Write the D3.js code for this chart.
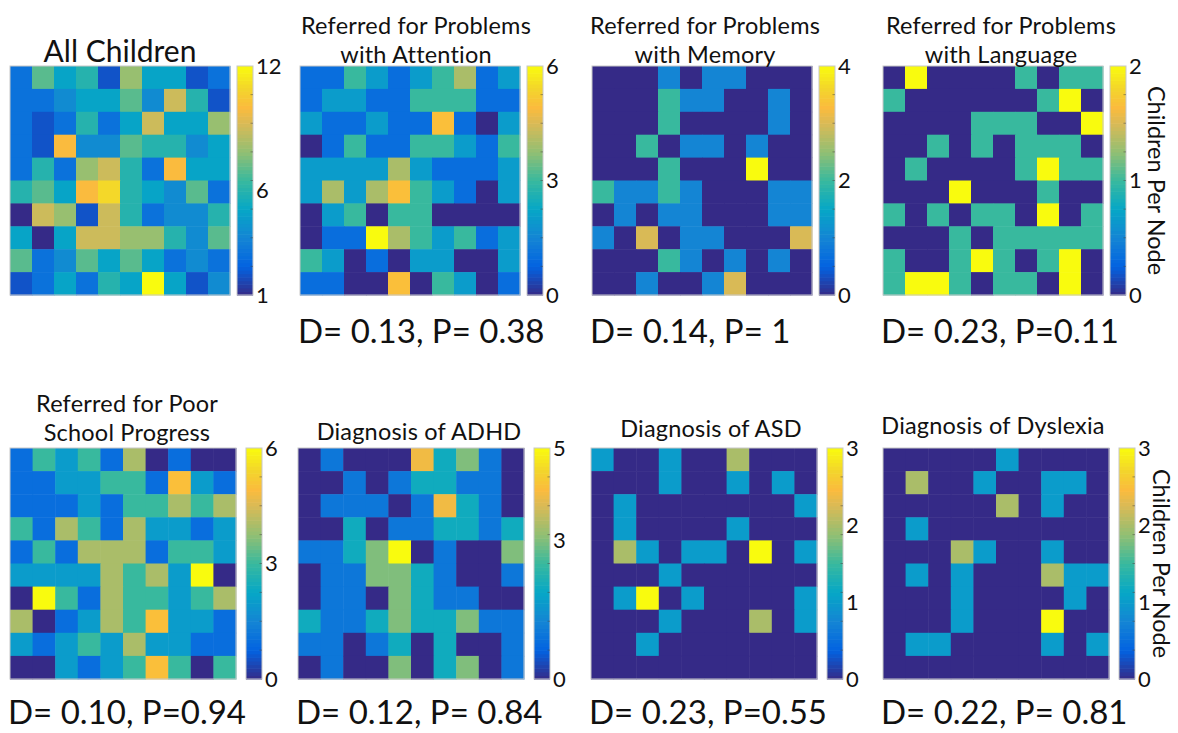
<!DOCTYPE html>
<html>
<head>
<meta charset="utf-8">
<script src="https://cdn.jsdelivr.net/npm/d3@7"></script>
<style>
  body { margin: 0; background: #fff; }
  svg { display: block; font-family: Lato, "Open Sans", sans-serif; }
</style>
</head>
<body>
<svg id="fig" width="1178" height="733"></svg>
<script>
// ---- data: children per SOM node, 10x10 maps (rows top -> bottom) ----
const titles = [
  ["All Children"],
  ["Referred for Problems", "with Attention"],
  ["Referred for Problems", "with Memory"],
  ["Referred for Problems", "with Language"],
  ["Referred for Poor", "School Progress"],
  ["Diagnosis of ADHD"],
  ["Diagnosis of ASD"],
  ["Diagnosis of Dyslexia"]
];
const statLabels = [
  "",
  "D= 0.13, P= 0.38",
  "D= 0.14, P= 1",
  "D= 0.23, P=0.11",
  "D= 0.10, P=0.94",
  "D= 0.12, P= 0.84",
  "D= 0.23, P=0.55",
  "D= 0.22, P= 0.81"
];
const colorMin = [1, 0, 0, 0, 0, 0, 0, 0];
const colorMax = [12, 6, 4, 2, 6, 5, 3, 3];
const tickValues = [
  [1, 6, 12], [0, 3, 6], [0, 2, 4], [0, 1, 2],
  [0, 3, 6], [0, 3, 5], [0, 1, 2, 3], [0, 1, 2, 3]
];
const cbarLabel = "Children Per Node";

const allChildren = [
  [3,7,5,6,2,8,5,5,2,3],
  [3,3,4,5,5,7,4,9,6,2],
  [3,2,3,6,3,5,9,5,5,8],
  [3,2,10,4,4,7,6,6,4,5],
  [3,6,3,8,9,6,3,10,5,5],
  [6,7,5,10,11,6,5,4,7,3],
  [1,9,8,2,9,6,3,4,4,6],
  [5,1,5,9,9,8,8,6,4,7],
  [7,3,4,7,5,7,5,3,4,3],
  [2,3,5,3,6,5,12,5,2,4]
];
const attention = [
  [1,1,3,2,1,2,3,4,1,2],
  [1,2,2,1,1,3,3,3,1,1],
  [2,1,1,2,1,1,5,1,0,2],
  [0,1,3,1,1,3,3,2,1,3],
  [2,2,2,2,4,2,1,1,1,2],
  [2,4,2,4,5,3,2,1,0,2],
  [0,2,3,0,3,3,0,0,0,0],
  [0,1,1,6,4,3,2,3,1,2],
  [3,2,0,1,0,2,2,0,0,2],
  [1,1,0,0,5,0,3,2,0,1]
];
const memory = [
  [0,0,0,1,0,1,1,0,0,0],
  [0,0,0,2,1,1,0,0,1,0],
  [0,0,0,2,0,0,0,0,1,0],
  [0,0,2,0,1,1,0,1,0,0],
  [0,0,0,2,0,0,0,4,0,0],
  [2,1,1,2,1,0,0,0,1,1],
  [0,1,0,1,1,0,0,0,1,1],
  [1,0,3,0,1,1,0,0,0,3],
  [0,0,0,2,1,0,1,0,1,0],
  [0,0,1,0,0,1,3,0,0,0]
];
const language = [
  [0,2,0,0,0,0,1,0,1,1],
  [1,0,0,0,0,0,0,1,2,0],
  [0,0,0,0,1,1,1,0,0,2],
  [0,0,1,0,1,0,1,1,1,0],
  [0,1,0,0,0,0,1,2,1,1],
  [0,0,0,2,0,0,0,1,0,0],
  [1,0,1,0,1,1,0,2,0,1],
  [0,0,0,1,0,1,1,1,1,1],
  [1,0,0,1,2,1,0,1,2,0],
  [1,2,2,1,0,1,1,0,2,0]
];
const schoolProgress = [
  [1,3,2,3,1,4,0,1,0,0],
  [1,1,2,2,3,3,1,5,2,1],
  [1,1,1,2,1,3,3,4,3,4],
  [3,1,4,3,1,4,2,2,1,2],
  [1,3,1,4,4,4,1,3,3,2],
  [2,2,2,2,4,3,4,2,6,0],
  [0,6,3,1,4,3,3,2,3,4],
  [4,0,1,2,4,3,5,2,2,1],
  [2,1,2,3,2,4,2,2,1,1],
  [0,0,2,1,2,3,5,3,0,3]
];
const adhd = [
  [0,1,0,0,0,4,2,3,1,0],
  [0,0,1,0,1,2,2,1,1,0],
  [0,1,1,1,0,1,4,2,1,0],
  [0,0,2,0,1,1,2,2,1,2],
  [1,1,2,3,5,0,1,0,0,3],
  [0,1,1,3,3,2,1,0,0,1],
  [0,1,1,0,3,2,1,1,0,0],
  [2,1,1,2,3,2,2,3,1,1],
  [1,1,0,1,2,0,2,0,0,1],
  [0,1,0,0,3,0,2,3,0,1]
];
const asd = [
  [1,0,0,1,0,0,2,0,0,0],
  [0,0,0,1,0,0,1,0,1,0],
  [0,1,0,0,0,0,0,0,0,1],
  [0,1,0,0,0,0,1,0,0,0],
  [0,2,1,0,1,1,0,3,0,1],
  [0,0,0,1,0,0,0,0,0,0],
  [0,1,3,0,1,0,0,0,0,1],
  [0,0,0,1,0,0,0,2,0,1],
  [0,0,1,0,0,0,0,0,0,0],
  [0,0,0,0,0,0,0,0,0,0]
];
const dyslexia = [
  [0,0,0,0,0,1,0,0,0,0],
  [0,2,0,0,1,0,0,1,1,0],
  [0,0,0,0,0,2,0,1,0,0],
  [0,1,0,0,0,0,0,0,0,0],
  [0,0,0,2,1,0,0,1,0,0],
  [0,1,0,1,0,0,0,2,1,1],
  [0,0,0,1,0,0,0,0,1,0],
  [0,0,0,1,0,0,0,3,0,0],
  [0,1,1,0,0,0,0,1,0,1],
  [0,0,0,0,0,0,0,0,0,0]
];
const maps = [allChildren, attention, memory, language, schoolProgress, adhd, asd, dyslexia];

// parula-like colormap
const parulaStops = [0, 0.125, 0.25, 0.375, 0.5, 0.625, 0.75, 0.82, 0.9, 1];
const parulaColors = ["#352a87", "#0363e1", "#1485d4", "#06a7c6", "#38b99e",
                      "#92bf73", "#d9ba56", "#fbbb3d", "#f3d42c", "#f9fb0e"];
const parula = d3.scaleLinear().domain(parulaStops).range(parulaColors)
  .interpolate(d3.interpolateRgb).clamp(true);

// ---- layout ----
const rows = [
  { y: 66,  h: 229, xs: [10, 300, 592, 883], w: 220, cbGap: 7,  titleY: [34, 63], statY: 343, labelX: 1156 },
  { y: 448, h: 231, xs: [10, 298, 591, 883], w: 226, cbGap: 10, titleY: [412, 441], statY: 724, labelX: 1161 }
];
const singleTitleY = [62, null, null, null, null, 440, 437, 434];
const titleShift = [0, 6, 3, 8, 4, 8, 7, -3];
const cbW = 16;

const svg = d3.select("#fig");

maps.forEach((grid, k) => {
  const r = rows[Math.floor(k / 4)];
  const gx = r.xs[k % 4];
  const g = svg.append("g").attr("class", "panel").attr("transform", `translate(${gx},${r.y})`);

  const nR = grid.length, nC = grid[0].length;
  const x = d3.scaleBand().domain(d3.range(nC)).range([0, r.w]);
  const y = d3.scaleBand().domain(d3.range(nR)).range([0, r.h]);
  const col = d3.scaleLinear().domain([colorMin[k], colorMax[k]]).range([0, 1]).clamp(true);

  const cells = grid.flatMap((row, i) => row.map((v, j) => ({ i, j, v })));
  g.selectAll("rect.cell").data(cells).enter().append("rect")
    .attr("class", "cell")
    .attr("x", d => x(d.j)).attr("y", d => y(d.i))
    .attr("width", x.bandwidth() + 0.5).attr("height", y.bandwidth() + 0.5)
    .attr("fill", d => parula(col(d.v)));

  g.append("rect").attr("width", r.w).attr("height", r.h)
    .attr("fill", "none").attr("stroke", "#c8c8c8").attr("stroke-width", 1);

  // title
  const t = titles[k];
  const tg = g.append("g").attr("class", "title");
  if (k === 0) {
    tg.append("text").attr("x", r.w / 2).attr("y", singleTitleY[k] - r.y)
      .attr("text-anchor", "middle").style("font-size", "30px").attr("fill", "#111").text(t[0]);
  } else {
    t.forEach((line, i) => {
      const yy = t.length === 2 ? r.titleY[i] : singleTitleY[k];
      tg.append("text").attr("x", r.w / 2 + titleShift[k]).attr("y", yy - r.y)
        .attr("text-anchor", "middle").style("font-size", "23.5px")
        .style("letter-spacing", "0.2px").attr("fill", "#111").text(line);
    });
  }

  // stats text
  if (statLabels[k]) {
    g.append("text").attr("x", -2).attr("y", r.statY - r.y)
      .style("font-size", "33px").attr("fill", "#111").text(statLabels[k]);
  }

  // colorbar
  const cb = g.append("g").attr("transform", `translate(${r.w + r.cbGap},0)`);
  const cy = d3.scaleLinear().domain([colorMin[k], colorMax[k]]).range([r.h, 0]);
  const steps = d3.range(64);
  cb.selectAll("rect.cb").data(steps).enter().append("rect")
    .attr("class", "cb")
    .attr("x", 0).attr("width", cbW)
    .attr("y", s => r.h - (s + 1) * r.h / 64).attr("height", r.h / 64 + 0.6)
    .attr("fill", s => parula((s + 0.5) / 64));
  cb.append("rect").attr("width", cbW).attr("height", r.h)
    .attr("fill", "none").attr("stroke", "#c8c8c8").attr("stroke-width", 1);

  const axis = d3.axisRight(cy).tickValues(tickValues[k]).tickSize(0).tickPadding(3)
    .tickFormat(d3.format("d"));
  const ax = cb.append("g").attr("transform", `translate(${cbW},0)`).call(axis);
  ax.select(".domain").remove();
  ax.selectAll("text").style("font-size", "22px").style("font-family", "Lato, sans-serif")
    .attr("fill", "#111");

  // small inner ticks on colorbar
  const minor = d3.range(colorMin[k], colorMax[k] + 1e-9, (colorMax[k] - colorMin[k]) / 8);
  cb.selectAll("line.mt").data(minor.slice(1, -1)).enter().append("line")
    .attr("class", "mt")
    .attr("x1", cbW - 2.5).attr("x2", cbW).attr("y1", d => cy(d)).attr("y2", d => cy(d))
    .attr("stroke", "#444").attr("stroke-opacity", 0.5);

  // rotated colorbar label on the last panel of each row
  if (k % 4 === 3) {
    svg.append("text")
      .attr("transform", `translate(${r.labelX},${r.y + r.h / 2}) rotate(90)`)
      .attr("text-anchor", "middle").attr("dy", "0.35em")
      .style("font-size", "23.5px").attr("fill", "#111").text(cbarLabel);
  }
});
</script>
</body>
</html>
